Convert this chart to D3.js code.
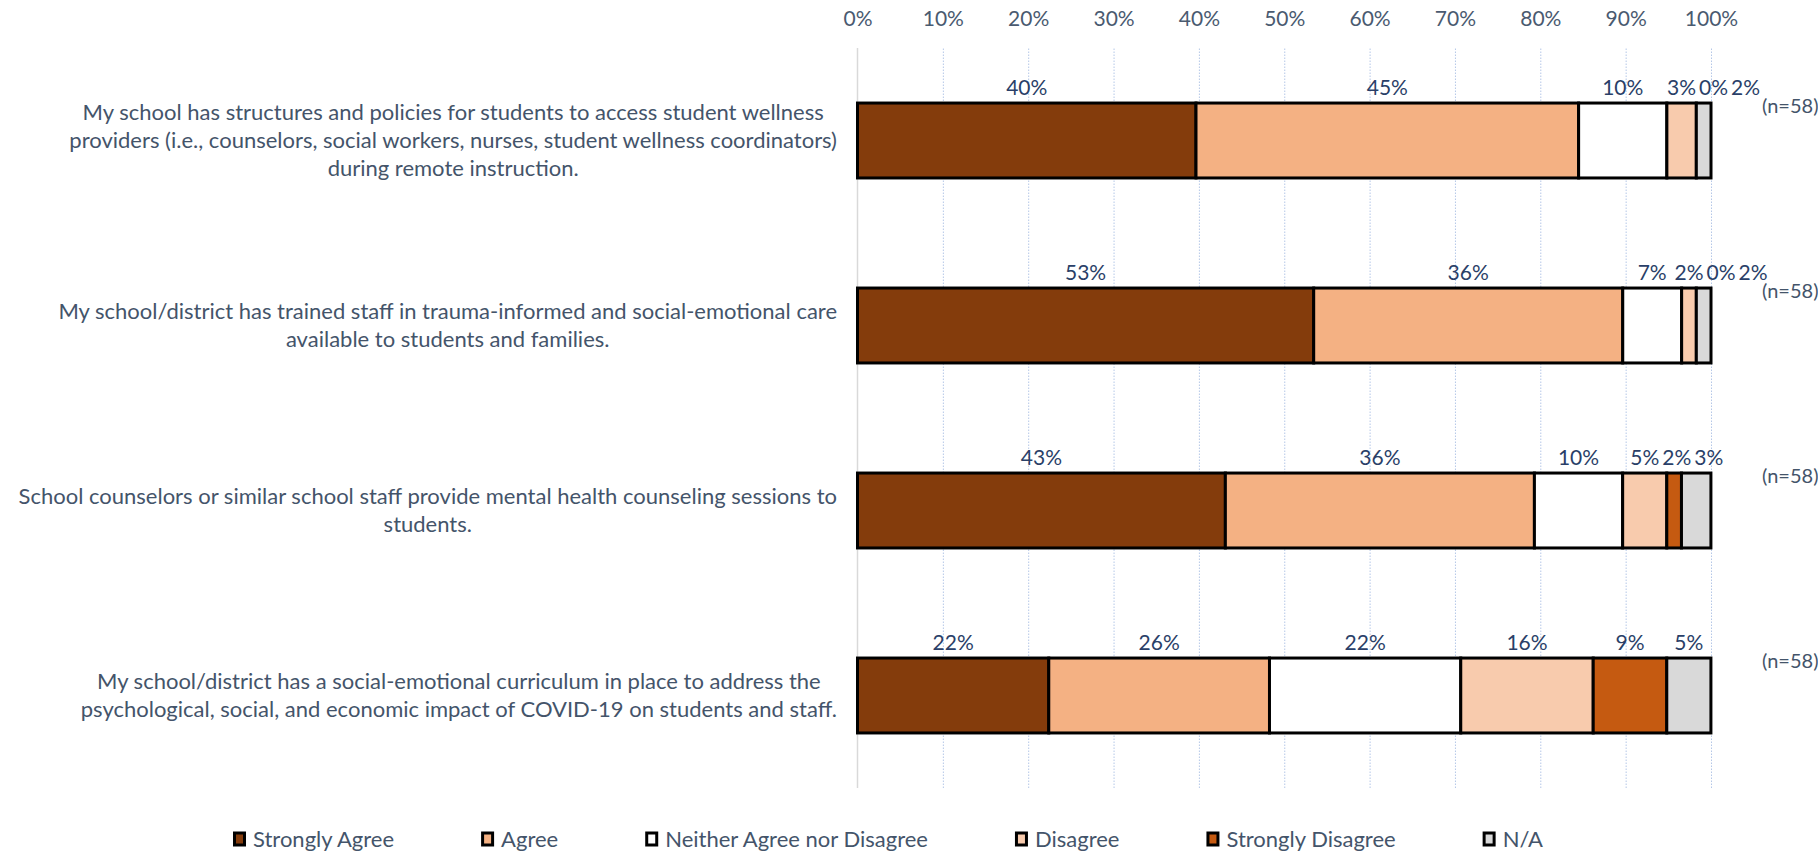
<!DOCTYPE html>
<html>
<head>
<meta charset="utf-8">
<script src="https://cdn.jsdelivr.net/npm/d3@7"></script>
<style>
  body { margin: 0; background: #fff; }
  svg { display: block; font-family: Lato, 'Open Sans', sans-serif; }
</style>
</head>
<body>
<svg id="chart" width="1818" height="854"></svg>
<script>
// Statement text, broken into lines the way the original shows them
const categories = [
  ['My school has structures and policies for students to access student wellness',
    'providers (i.e., counselors, social workers, nurses, student wellness coordinators)',
    'during remote instruction.'],
  ['My school/district has trained staff in trauma-informed and social-emotional care',
    'available to students and families.'],
  ['School counselors or similar school staff provide mental health counseling sessions to',
    'students.'],
  ['My school/district has a social-emotional curriculum in place to address the',
    'psychological, social, and economic impact of COVID-19 on students and staff.'],
];
const respondents = [58, 58, 58, 58];

const seriesNames = ['Strongly Agree', 'Agree', 'Neither Agree nor Disagree', 'Disagree', 'Strongly Disagree', 'N/A'];
const seriesColors = ['#843C0C', '#F4B183', '#FFFFFF', '#F8CBAD', '#C55A11', '#D9D9D9'];

// Percent of respondents, one value per statement
const stronglyAgree = [39.66, 53.45, 43.10, 22.41];
const agree = [44.83, 36.21, 36.21, 25.86];
const neither = [10.34, 6.90, 10.34, 22.41];
const disagree = [3.45, 1.72, 5.17, 15.52];
const stronglyDisagree = [0, 0, 1.72, 8.62];
const notApplicable = [1.72, 1.72, 3.45, 5.17];

const tickValues = [0, 10, 20, 30, 40, 50, 60, 70, 80, 90, 100];

const seriesValues = [stronglyAgree, agree, neither, disagree, stronglyDisagree, notApplicable];
const rows = categories.map((c, i) => {
  const row = { id: i };
  seriesNames.forEach((s, j) => (row[s] = seriesValues[j][i]));
  return row;
});

const svg = d3.select('#chart');
const plot = { left: 857.5, right: 1711, top: 48, bottom: 788 };
const labelRight = 837;

const textColor = '#44546A';
const valueColor = '#2A3F68';

const x = d3.scaleLinear().domain([0, 100]).range([plot.left, plot.right]);
const y = d3
  .scaleBand()
  .domain(rows.map(d => d.id))
  .range([plot.top, plot.bottom])
  .paddingInner(0.595)
  .paddingOuter(0.2975);

// Dotted gridlines
const grid = svg
  .append('g')
  .attr('transform', `translate(0, ${plot.bottom})`)
  .call(
    d3
      .axisBottom(x)
      .tickValues(tickValues.slice(1))
      .tickSize(-(plot.bottom - plot.top))
      .tickFormat('')
  );
grid.select('.domain').remove();
grid
  .selectAll('line')
  .attr('stroke', '#B4C7E7')
  .attr('stroke-width', 1)
  .attr('stroke-dasharray', '1.5,1.5');

// Value axis baseline
svg
  .append('line')
  .attr('x1', x(0))
  .attr('x2', x(0))
  .attr('y1', plot.top)
  .attr('y2', plot.bottom)
  .attr('stroke', '#D9D9D9')
  .attr('stroke-width', 1.5);

// Tick labels across the top
const axis = svg
  .append('g')
  .attr('transform', 'translate(0, 27)')
  .call(
    d3
      .axisTop(x)
      .tickValues(tickValues)
      .tickSize(0)
      .tickPadding(0)
      .tickFormat(d => d + '%')
  );
axis.select('.domain').remove();
axis
  .selectAll('text')
  .attr('font-family', 'Lato, sans-serif')
  .attr('font-size', 21)
  .attr('fill', '#4A5A70')
  .attr('dy', '-0.05em');

// Stacked bars
const stack = d3.stack().keys(seriesNames)(rows);

svg
  .append('g')
  .selectAll('g')
  .data(stack)
  .join('g')
  .attr('fill', (d, i) => seriesColors[i])
  .selectAll('rect')
  .data(d => d)
  .join('rect')
  .attr('x', d => x(d[0]))
  .attr('y', d => y(d.data.id))
  .attr('width', d => x(d[1]) - x(d[0]))
  .attr('height', y.bandwidth())
  .attr('stroke', '#000')
  .attr('stroke-width', 3);

// Value labels above each segment, nudged right when they collide
const valueLayer = svg.append('g');
rows.forEach(row => {
  const labels = stack.map(s => {
    const seg = s[row.id];
    return { text: Math.round(seg[1] - seg[0]) + '%', cx: (x(seg[0]) + x(seg[1])) / 2 };
  });
  const texts = valueLayer
    .selectAll(null)
    .data(labels)
    .join('text')
    .attr('y', y(row.id) - 15)
    .attr('dy', '0.35em')
    .attr('text-anchor', 'middle')
    .attr('font-size', 21)
    .attr('fill', valueColor)
    .text(d => d.text);
  let prevRight = -Infinity;
  texts.each(function(d) {
    const w = this.getComputedTextLength();
    let cx = d.cx;
    if (cx - w / 2 < prevRight + 3) cx = prevRight + 3 + w / 2;
    prevRight = cx + w / 2;
    d3.select(this).attr('x', cx);
  });
});

// Respondent counts to the right of each bar
svg
  .append('g')
  .selectAll('text')
  .data(rows)
  .join('text')
  .attr('x', x(100) + 51)
  .attr('y', d => y(d.id) + 3)
  .attr('dy', '0.35em')
  .attr('font-size', 20)
  .attr('fill', textColor)
  .text(d => `(n=${respondents[d.id]})`);

// Statement labels: lines centred in a box whose right edge is fixed
const lineHeight = 28;
categories.forEach((lines, i) => {
  const g = svg.append('g');
  const cy = y(i) + y.bandwidth() / 2;
  const texts = g
    .selectAll('text')
    .data(lines)
    .join('text')
    .attr('y', (d, j) => cy + (j - (lines.length - 1) / 2) * lineHeight)
    .attr('dy', '0.35em')
    .attr('text-anchor', 'middle')
    .attr('font-size', 22)
    .attr('fill', textColor)
    .text(d => d);
  let widest = 0;
  texts.each(function() {
    widest = Math.max(widest, this.getComputedTextLength());
  });
  texts.attr('x', labelRight - widest / 2);
});

// Legend
const legend = svg.append('g').attr('transform', 'translate(233, 839)');
let lx = 0;
seriesNames.forEach((name, i) => {
  const item = legend.append('g').attr('transform', `translate(${lx}, 0)`);
  item
    .append('rect')
    .attr('x', 1.5)
    .attr('y', -6)
    .attr('width', 10)
    .attr('height', 12)
    .attr('fill', seriesColors[i])
    .attr('stroke', '#000')
    .attr('stroke-width', 3);
  const t = item
    .append('text')
    .attr('x', 20)
    .attr('dy', '0.35em')
    .attr('font-size', 22)
    .attr('fill', textColor)
    .text(name);
  lx += 20 + t.node().getComputedTextLength() + 87;
});
</script>
</body>
</html>
